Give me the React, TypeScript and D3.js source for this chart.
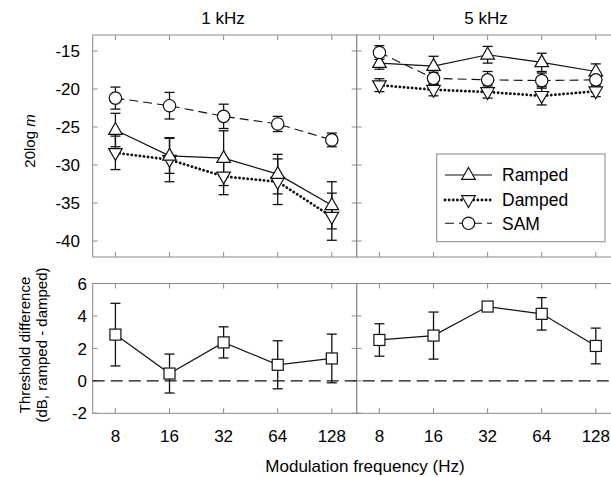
import React from "react";
import * as d3 from "d3";

// Data
const freqs = [8, 16, 32, 64, 128];

const ramped1k = [-25.4, -28.8, -29.1, -31.2, -35.3];
const ramped1kErr = [2.2, 2.3, 3.6, 2.6, 3.1];
const damped1k = [-28.4, -29.3, -31.5, -32.2, -36.8];
const damped1kErr = [2.2, 2.9, 2.4, 3.0, 3.1];
const sam1k = [-21.2, -22.2, -23.6, -24.6, -26.7];
const sam1kErr = [1.45, 1.75, 1.6, 1.0, 0.9];

const ramped5k = [-16.6, -17.0, -15.5, -16.5, -17.7];
const ramped5kErr = [0.8, 1.3, 1.1, 1.2, 1.0];
const damped5k = [-19.5, -20.1, -20.4, -20.9, -20.3];
const damped5kErr = [0.85, 0.8, 0.8, 1.2, 0.7];
const sam5k = [-15.2, -18.6, -18.8, -18.9, -18.8];
const sam5kErr = [0.9, 0.8, 1.1, 1.0, 1.0];

const diff1k = [2.85, 0.45, 2.37, 0.99, 1.38];
const diff1kErr = [1.93, 1.2, 0.96, 1.48, 1.5];
const diff5k = [2.52, 2.79, 4.58, 4.13, 2.15];
const diff5kErr = [1.0, 1.45, 0.1, 1.0, 1.1];

const topTicks = [-15, -20, -25, -30, -35, -40];
const botTicks = [6, 4, 2, 0, -2];

const legendItems = ["Ramped", "Damped", "SAM"];

// Geometry
const W = 611;
const H = 477;
const LEFT = 92.7;
const MID = 356.7;
const RIGHT = 620.7;
const TOP_Y0 = 35;
const TOP_Y1 = 257;
const BOT_Y0 = 283.5;
const BOT_Y1 = 413.3;
const TICK = 5;
const CAP = 5;
const FONT = "'Liberation Sans', Arial, Helvetica, sans-serif";
const FRAME = "#8a8a8a";
const FS = 17;

const xDomain = [8 * Math.pow(2, -0.42), 128 * Math.pow(2, 0.46)];
const xLeft = d3.scaleLog().base(2).domain(xDomain).range([LEFT, MID]);
const xRight = d3.scaleLog().base(2).domain(xDomain).range([MID, RIGHT]);
const yTop = d3.scaleLinear().domain([-42.1, -12.9]).range([TOP_Y1, TOP_Y0]);
const yBot = d3.scaleLinear().domain([-2, 6]).range([BOT_Y1, BOT_Y0]);

type Kind = "up" | "down" | "circle" | "square";

function Marker({ kind, x, y }: { kind: Kind; x: number; y: number }) {
  const common = { fill: "#fff", stroke: "#111", strokeWidth: 1.2 };
  if (kind === "circle") return <circle cx={x} cy={y} r={6.2} {...common} />;
  if (kind === "square") return <rect x={x - 5.5} y={y - 5.5} width={11} height={11} {...common} />;
  const s = kind === "up" ? 1 : -1;
  const pts = [
    [x, y - 7.5 * s],
    [x + 6.8, y + 4.3 * s],
    [x - 6.8, y + 4.3 * s],
  ];
  return <polygon points={pts.map((p) => p.join(",")).join(" ")} {...common} />;
}

const styles: Record<string, { dash?: string; width: number; cap?: string }> = {
  up: { width: 1.2 },
  down: { dash: "0.1,4", width: 2.8, cap: "round" },
  circle: { dash: "9,5", width: 1.1 },
  square: { width: 1.2 },
};

function Series({ xs, vals, errs, y, kind }: { xs: any; vals: number[]; errs: number[]; y: any; kind: Kind }) {
  const line = d3
    .line<number>()
    .x((_, i) => xs(freqs[i]))
    .y((d) => y(d));
  const st = styles[kind];
  return (
    <g>
      <path
        d={line(vals) || ""}
        fill="none"
        stroke="#111"
        strokeWidth={st.width}
        strokeDasharray={st.dash}
        strokeLinecap={st.cap as any}
      />
      {vals.map((v, i) => {
        const cx = xs(freqs[i]);
        const y0 = y(v + errs[i]);
        const y1 = y(v - errs[i]);
        return (
          <g key={i} stroke="#111" strokeWidth={1.3}>
            <line x1={cx} x2={cx} y1={y0} y2={y1} />
            <line x1={cx - CAP} x2={cx + CAP} y1={y0} y2={y0} />
            <line x1={cx - CAP} x2={cx + CAP} y1={y1} y2={y1} />
          </g>
        );
      })}
    </g>
  );
}

function Markers({ xs, vals, y, kind }: { xs: any; vals: number[]; y: any; kind: Kind }) {
  return (
    <g>
      {vals.map((v, i) => (
        <Marker key={i} kind={kind} x={xs(freqs[i])} y={y(v)} />
      ))}
    </g>
  );
}

function Frame({ x0, x1, y0, y1, yTicks, y }: { x0: number; x1: number; y0: number; y1: number; yTicks: number[]; y: any }) {
  const xs = d3.scaleLog().base(2).domain(xDomain).range([x0, x1]);
  return (
    <g stroke={FRAME} strokeWidth={1}>
      <rect x={x0} y={y0} width={x1 - x0} height={y1 - y0} fill="none" />
      {freqs.map((f) => (
        <g key={f}>
          <line x1={xs(f)} x2={xs(f)} y1={y0} y2={y0 + TICK} />
          <line x1={xs(f)} x2={xs(f)} y1={y1} y2={y1 - TICK} />
        </g>
      ))}
      {yTicks.map((t) => (
        <g key={t}>
          <line x1={x0} x2={x0 + TICK} y1={y(t)} y2={y(t)} />
          <line x1={x1} x2={x1 - TICK} y1={y(t)} y2={y(t)} />
        </g>
      ))}
    </g>
  );
}

export default function App() {
  const legX0 = 436.7;
  const legY0 = 154;
  const legRows = [175, 200, 223.3];
  const legKinds: Kind[] = ["up", "down", "circle"];

  return (
    <svg
      width={W}
      height={H}
      style={{ position: "absolute", left: 0, top: 0, background: "#fff" }}
      fontFamily={FONT}
    >
      <rect width={W} height={H} fill="#fff" />

      {/* Frames */}
      <Frame x0={LEFT} x1={MID} y0={TOP_Y0} y1={TOP_Y1} yTicks={topTicks} y={yTop} />
      <Frame x0={MID} x1={RIGHT} y0={TOP_Y0} y1={TOP_Y1} yTicks={topTicks} y={yTop} />
      <Frame x0={LEFT} x1={MID} y0={BOT_Y0} y1={BOT_Y1} yTicks={botTicks} y={yBot} />
      <Frame x0={MID} x1={RIGHT} y0={BOT_Y0} y1={BOT_Y1} yTicks={botTicks} y={yBot} />

      {/* Panel titles */}
      <text x={223} y={24} fontSize={FS} textAnchor="middle">1 kHz</text>
      <text x={486} y={24} fontSize={FS} textAnchor="middle">5 kHz</text>

      {/* Top y ticks */}
      {topTicks.map((t) => (
        <text key={t} x={80} y={yTop(t)} dy="0.36em" fontSize={FS} textAnchor="end">
          {t}
        </text>
      ))}
      {/* Bottom y ticks */}
      {botTicks.map((t) => (
        <text key={t} x={87} y={yBot(t)} dy="0.36em" fontSize={FS} textAnchor="end">
          {t}
        </text>
      ))}
      {/* x tick labels */}
      {[xLeft, xRight].map((xs, k) =>
        freqs.map((f) => (
          <text key={k + "-" + f} x={xs(f)} y={442} fontSize={FS} textAnchor="middle">
            {f}
          </text>
        ))
      )}
      <text x={365} y={472} fontSize={FS} textAnchor="middle">Modulation frequency (Hz)</text>

      {/* y titles */}
      <text transform="translate(35,141) rotate(-90)" fontSize={15} textAnchor="middle">
        20log <tspan fontStyle="italic">m</tspan>
      </text>
      <text transform="translate(30,345) rotate(-90)" fontSize={15} textAnchor="middle">
        Threshold difference
      </text>
      <text transform="translate(47,345) rotate(-90)" fontSize={15} textAnchor="middle">
        (dB, ramped - damped)
      </text>

      {/* zero lines */}
      <line x1={LEFT} x2={RIGHT} y1={yBot(0)} y2={yBot(0)} stroke="#111" strokeWidth={1.2} strokeDasharray="12,6" />

      {/* Top-left data */}
      <Series xs={xLeft} vals={sam1k} errs={sam1kErr} y={yTop} kind="circle" />
      <Series xs={xLeft} vals={damped1k} errs={damped1kErr} y={yTop} kind="down" />
      <Series xs={xLeft} vals={ramped1k} errs={ramped1kErr} y={yTop} kind="up" />
      <Markers xs={xLeft} vals={sam1k} y={yTop} kind="circle" />
      <Markers xs={xLeft} vals={damped1k} y={yTop} kind="down" />
      <Markers xs={xLeft} vals={ramped1k} y={yTop} kind="up" />

      {/* Top-right data */}
      <Series xs={xRight} vals={sam5k} errs={sam5kErr} y={yTop} kind="circle" />
      <Series xs={xRight} vals={damped5k} errs={damped5kErr} y={yTop} kind="down" />
      <Series xs={xRight} vals={ramped5k} errs={ramped5kErr} y={yTop} kind="up" />
      <Markers xs={xRight} vals={damped5k} y={yTop} kind="down" />
      <Markers xs={xRight} vals={ramped5k} y={yTop} kind="up" />
      <Markers xs={xRight} vals={sam5k} y={yTop} kind="circle" />

      {/* Bottom data */}
      <Series xs={xLeft} vals={diff1k} errs={diff1kErr} y={yBot} kind="square" />
      <Markers xs={xLeft} vals={diff1k} y={yBot} kind="square" />
      <Series xs={xRight} vals={diff5k} errs={diff5kErr} y={yBot} kind="square" />
      <Markers xs={xRight} vals={diff5k} y={yBot} kind="square" />

      {/* Legend */}
      <rect x={legX0} y={legY0} width={605 - legX0} height={241.7 - legY0} fill="#fff" stroke={FRAME} strokeWidth={1} />
      {legendItems.map((name, i) => {
        const st = styles[legKinds[i]];
        const ly = legRows[i];
        return (
          <g key={name}>
            <line
              x1={445}
              x2={492}
              y1={ly}
              y2={ly}
              stroke="#111"
              strokeWidth={st.width}
              strokeDasharray={st.dash}
              strokeLinecap={st.cap as any}
            />
            <Marker kind={legKinds[i]} x={468.5} y={ly} />
            <text x={502} y={ly} dy="0.36em" fontSize={17.5}>
              {name}
            </text>
          </g>
        );
      })}
    </svg>
  );
}
